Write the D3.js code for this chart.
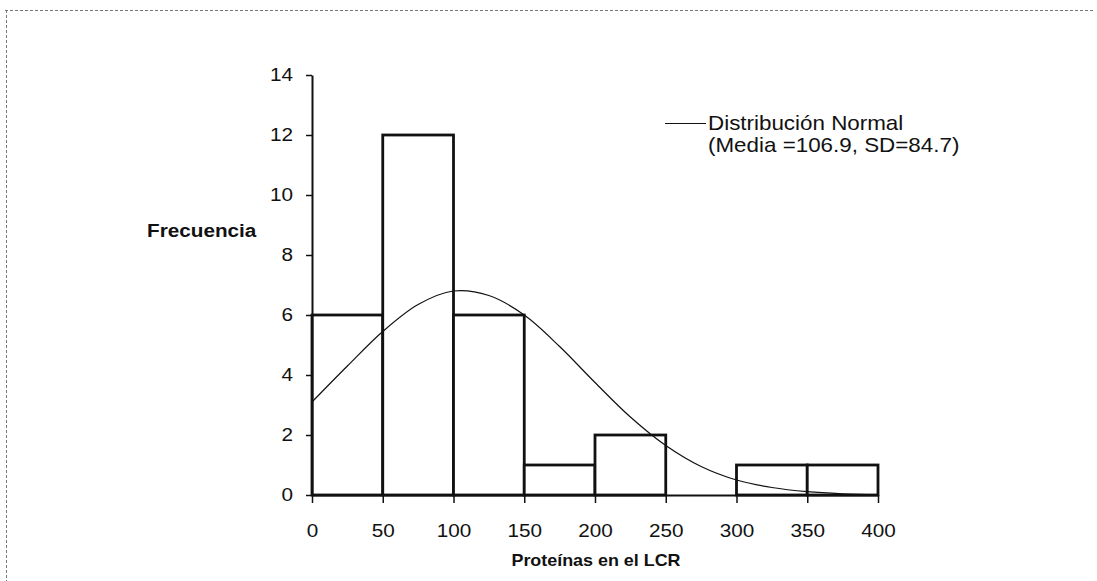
<!DOCTYPE html>
<html><head><meta charset="utf-8">
<script src="https://cdn.jsdelivr.net/npm/d3@7"></script>
<style>body{margin:0;background:#fff}svg{display:block}text{font-family:"Liberation Sans",Arial,sans-serif}</style>
</head><body>
<svg id="c" width="1097" height="581"></svg>
<script>
const binStarts = [0, 50, 100, 150, 200, 250, 300, 350];
const binWidth = 50;
const frequencies = [6, 12, 6, 1, 2, 0, 1, 1];
const curveX = [0, 25, 50, 75, 100, 125, 150, 175, 200, 225, 250, 275, 300, 325, 350, 375, 400];
const curveY = [3.1, 4.3, 5.45, 6.35, 6.8, 6.65, 6.0, 4.95, 3.75, 2.6, 1.65, 0.95, 0.5, 0.25, 0.11, 0.04, 0.01];
const xTicks = [0, 50, 100, 150, 200, 250, 300, 350, 400];
const yTicks = [0, 2, 4, 6, 8, 10, 12, 14];
const legendLines = ["Distribución Normal", "(Media =106.9, SD=84.7)"];

const SX = 1.12; // horizontal stretch of the lettering in the reference
const svg = d3.select("#c");
svg.append("path").attr("d", "M5,10.5H1095M6.5,10V581")
  .attr("fill", "none").attr("stroke", "#777").attr("stroke-width", 1).attr("stroke-dasharray", "3,2");

const x = d3.scaleLinear().domain([0, 400]).range([312, 878]);
const y = d3.scaleLinear().domain([0, 14]).range([495, 75]);

const g = svg.append("g");
g.selectAll("rect.bar").data(binStarts).join("rect")
  .attr("x", (d) => x(d)).attr("width", (d) => x(d + binWidth) - x(d))
  .attr("y", (d, i) => y(frequencies[i])).attr("height", (d, i) => y(0) - y(frequencies[i]))
  .attr("fill", "#fff").attr("stroke", "#111").attr("stroke-width", 2.8);

const line = d3.line().x((d, i) => x(curveX[i])).y((d) => y(d)).curve(d3.curveCatmullRom.alpha(0.5));
g.append("path").datum(curveY).attr("d", line).attr("fill", "none").attr("stroke", "#111").attr("stroke-width", 1.2);

const yAxis = d3.axisLeft(y).tickValues(yTicks).tickSize(6).tickSizeOuter(0).tickPadding(0);
const ya = svg.append("g").attr("transform", `translate(${x(0)},0)`).call(yAxis);
ya.select(".domain").attr("stroke", "#111").attr("stroke-width", 2);
ya.selectAll(".tick line").attr("stroke", "#111").attr("stroke-width", 1.5);
ya.selectAll("text").attr("x", 0).attr("font-size", 18.5).attr("fill", "#111")
  .attr("transform", `translate(-19,0) scale(${SX},1)`);

const xAxis = d3.axisBottom(x).tickValues(xTicks).tickSize(8).tickSizeOuter(0).tickPadding(0);
const xa = svg.append("g").attr("transform", `translate(0,${y(0)})`).call(xAxis);
xa.select(".domain").attr("stroke", "#111").attr("stroke-width", 2);
xa.selectAll(".tick line").attr("stroke", "#111").attr("stroke-width", 1.5);
xa.selectAll("text").attr("y", 0).attr("dy", 0).attr("font-size", 18.5).attr("fill", "#111")
  .attr("transform", `translate(0,42) scale(${SX},1)`);

svg.append("text").attr("transform", `translate(147,237) scale(${SX},1)`).attr("font-size", 18.5)
  .attr("font-weight", "bold").attr("fill", "#111").text("Frecuencia");
svg.append("text").attr("transform", `translate(596,566) scale(${SX},1)`).attr("text-anchor", "middle")
  .attr("font-size", 16).attr("font-weight", "bold").attr("fill", "#111").text("Proteínas en el LCR");

svg.append("line").attr("x1", 665).attr("x2", 706).attr("y1", 123.5).attr("y2", 123.5)
  .attr("stroke", "#111").attr("stroke-width", 1.2);
svg.selectAll("text.leg").data(legendLines).join("text").attr("class", "leg")
  .attr("transform", (d, i) => `translate(708,${130 + i * 22}) scale(${SX},1)`)
  .attr("font-size", 20).attr("fill", "#111").text((d) => d);
</script>
</body></html>
